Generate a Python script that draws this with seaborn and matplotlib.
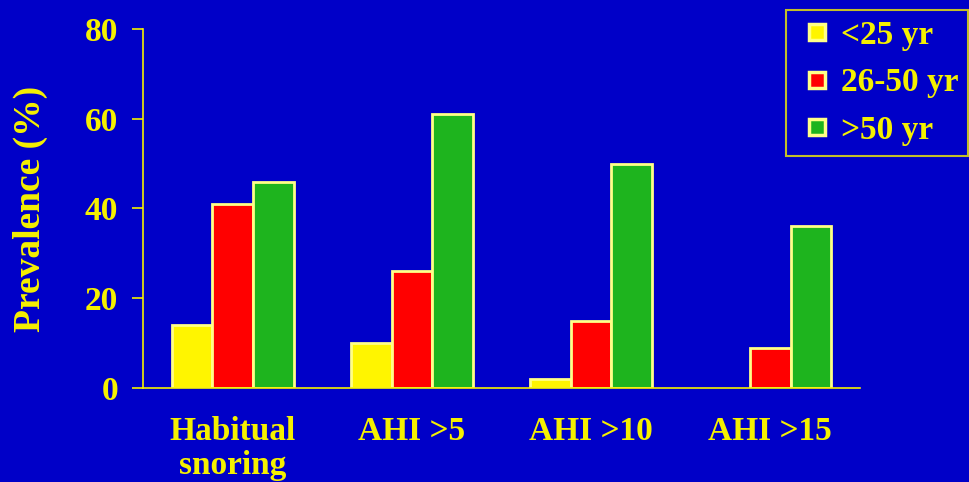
import matplotlib
matplotlib.use("Agg")
import matplotlib.pyplot as plt
from matplotlib.lines import Line2D
import seaborn as sns
import pandas as pd

categories = ["Habitual\nsnoring", "AHI >5", "AHI >10", "AHI >15"]
age_groups = ["<25 yr", "26-50 yr", ">50 yr"]
under_25 = [14, 10, 2, 0]
age_26_50 = [41, 26, 15, 9]
over_50 = [46, 61, 50, 36]
y_ticks = [0, 20, 40, 60, 80]

BG = "#0000C8"
TXT = "#F5F000"
EDGE = "#FFFF88"
colors = ["#FFF500", "#FF0000", "#1EB41E"]

rows = []
for grp, vals in zip(age_groups, [under_25, age_26_50, over_50]):
    for cat, v in zip(categories, vals):
        rows.append({"category": cat, "age": grp, "prevalence": v})
df = pd.DataFrame(rows)

sns.set_style("white")
plt.rcParams["font.family"] = ["Liberation Serif", "DejaVu Serif"]
plt.rcParams["font.weight"] = "bold"

fig = plt.figure(figsize=(9.7, 4.82), dpi=100, facecolor=BG)
ax = fig.add_axes([0.1474, 0.195, 0.7392, 0.745])
ax.set_facecolor(BG)

sns.barplot(data=df, x="category", y="prevalence", hue="age",
            order=categories, hue_order=age_groups, palette=colors,
            width=0.68, edgecolor=EDGE, linewidth=2, saturation=1,
            errorbar=None, legend=False, ax=ax)

# zero-height bars leave no outline on the baseline
for p in ax.patches:
    if p.get_height() == 0:
        p.set_linewidth(0)

ax.set_xlim(-0.5, 3.5)
ax.set_ylim(0, 80)
ax.set_yticks(y_ticks)
ax.set_yticklabels([str(t) for t in y_ticks])

for side in ["top", "right"]:
    ax.spines[side].set_visible(False)
for side in ["left", "bottom"]:
    ax.spines[side].set_color(TXT)
    ax.spines[side].set_linewidth(1.2)

ax.tick_params(axis="y", colors=TXT, direction="out", length=8, width=1.2,
               labelsize=24, pad=10, left=True)
ax.tick_params(axis="x", colors=TXT, length=0, labelsize=24, pad=20)
for lab in ax.get_xticklabels() + ax.get_yticklabels():
    lab.set_fontweight("bold")
    lab.set_color(TXT)
for lab in ax.get_xticklabels():
    lab.set_linespacing(1.12)

ax.set_xlabel("")
ax.set_ylabel("Prevalence (%)", fontsize=27, fontweight="bold", color=TXT,
              labelpad=26)

handles = [Line2D([], [], linestyle="none", marker="s", markersize=12,
                  markerfacecolor=c, markeredgecolor=EDGE, markeredgewidth=2.5)
           for c in colors]
leg = fig.legend(handles, age_groups, loc="upper right",
                 bbox_to_anchor=(0.998, 0.98), frameon=True, fancybox=False,
                 handlelength=1.3, handletextpad=0.05,
                 labelspacing=0.5, borderpad=0.3, borderaxespad=0,
                 prop={"family": "Liberation Serif", "weight": "bold", "size": 24})
leg.get_frame().set_facecolor(BG)
leg.get_frame().set_edgecolor(TXT)
leg.get_frame().set_linewidth(1.5)
for t in leg.get_texts():
    t.set_color(TXT)

fig.savefig("out.png", dpi=100, facecolor=BG)
